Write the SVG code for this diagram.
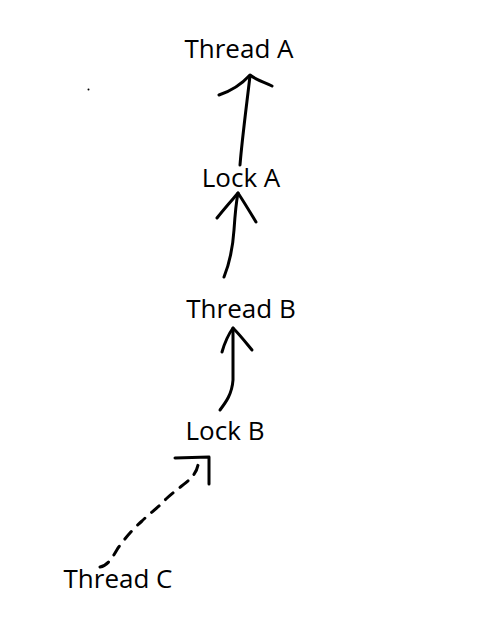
<svg xmlns="http://www.w3.org/2000/svg" width="494" height="628" viewBox="0 0 494 628">
<style>
.lbl{font-family:"Open Sans","Liberation Sans",sans-serif;font-size:26px;fill:#000;text-anchor:middle}
.ln{fill:none;stroke:#000;stroke-width:3;stroke-linecap:round;stroke-linejoin:round}
.dash{stroke-dasharray:10 9}
</style>
<rect width="494" height="628" fill="#fff"/>
<circle cx="88.5" cy="89.5" r="1" fill="#000"/>
<g id="connectors">
<g id="e1">
<path class="ln" d="M240,165 C242,140 246,110 250,76"/>
<path class="ln" d="M219,95 C228,92 240,86 250,75 C256,80 264,82 272,86"/>
</g>
<g id="e2">
<path class="ln" d="M224,277 C230,262 233,245 234,230 C235,215 236,203 238,193"/>
<path class="ln" d="M217,218 C223,210 232,200 238,193 C244,202 250,212 256,222"/>
</g>
<g id="e3">
<path class="ln" d="M220,410 C226,402 232,394 233,380 C233,360 233,340 233,328"/>
<path class="ln" d="M222,352 C224,345 228,335 233,328 C240,335 247,344 252,350"/>
</g>
<g id="e4">
<path class="ln dash" d="M100,567 C106,566 110,562 118,548 C126,537 134,528 142,521 C150,513 158,508 166,499 C176,490 186,483 190,479 C195,474 197,470 198,465"/>
<path class="ln" d="M175,458 L209,457 L209,484"/>
</g>
</g>
<g id="n-threadA"><text class="lbl" x="239" y="58">Thread A</text></g>
<g id="n-lockA"><text class="lbl" x="241" y="187">Lock A</text></g>
<g id="n-threadB"><text class="lbl" x="241" y="318">Thread B</text></g>
<g id="n-lockB"><text class="lbl" x="225" y="440">Lock B</text></g>
<g id="n-threadC"><text class="lbl" x="118" y="588">Thread C</text></g>
</svg>
